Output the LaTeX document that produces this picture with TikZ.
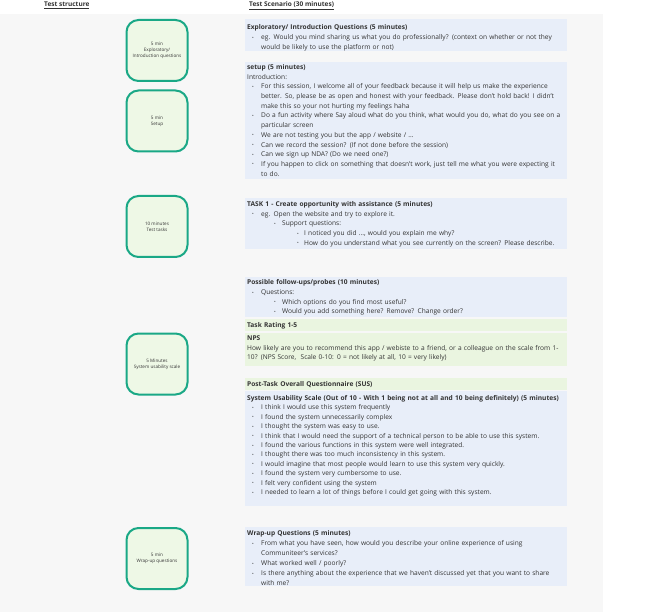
\documentclass[tikz,border=0pt]{standalone}
\usepackage{fontspec}
\setmainfont{Open Sans}
\definecolor{panel}{HTML}{F7F7F7}
\definecolor{bluebg}{HTML}{E8EEF9}
\definecolor{greenbg}{HTML}{EAF5E0}
\definecolor{boxline}{HTML}{1AA886}
\definecolor{boxfill}{HTML}{EEF8E6}
\definecolor{txt}{HTML}{333333}
\newcommand\dotb{\raisebox{0.5pt}{\fontsize{4.5}{4}\selectfont\textbullet}}
\newcommand\bA[1]{\hspace*{5pt}\makebox[9pt][l]{\dotb}#1}
\newcommand\bB[1]{\hspace*{27pt}\makebox[8pt][l]{\dotb}#1}
\newcommand\bC[1]{\hspace*{50pt}\makebox[7pt][l]{\dotb}#1}
\newcommand\cA[1]{\hspace*{14pt}#1}
\tikzset{
  x=1pt, y=-1pt,
  blueblock/.style={fill=bluebg, draw=none},
  greenblock/.style={fill=greenbg, draw=none},
  blocktext/.style={anchor=base west, inner sep=0pt, text width=360pt, align=left,
    font=\fontsize{6.6}{9.7}\selectfont, text=txt},
  stepbox/.style={draw=boxline, line width=2pt, fill=boxfill, rounded corners=12pt,
    minimum width=61pt, minimum height=61pt, align=center, inner sep=1pt,
    font=\fontsize{4.6}{6}\selectfont, text=txt},
  header/.style={anchor=base west, inner sep=0pt, font=\fontsize{6.5}{8}\selectfont\bfseries, text=txt}
}
\begin{document}
\begin{tikzpicture}
\useasboundingbox (0,0) rectangle (661,612);
\fill[white] (0,0) rectangle (661,612);
\fill[panel] (0,14) rectangle (603,612);
% headers
\node[header] (h1) at (44,6.5) {\underline{Test structure}};
\node[header] (h2) at (249,6.5) {\underline{Test Scenario (30 minutes)}};
% left boxes
\node[stepbox] (s1) at (157,50.5) {5 min\\Exploratory/\\Introduction questions};
\node[stepbox] (s2) at (157,121) {5 min\\Setup};
\node[stepbox] (s3) at (157,226.5) {10 minutes\\Test tasks};
\node[stepbox] (s4) at (157,364) {5 Minutes\\System usability scale};
\node[stepbox] (s5) at (157,558.5) {5 min\\Wrap-up questions};
% backgrounds
\fill[blueblock] (245,19.5) rectangle (567,51);
\fill[blueblock] (245,62) rectangle (567,179);
\fill[blueblock] (245,198) rectangle (567,249);
\fill[blueblock] (245,277) rectangle (567,317);
\fill[greenblock] (245,319) rectangle (567,331);
\fill[greenblock] (245,333) rectangle (567,366);
\fill[greenblock] (245,378) rectangle (567,390);
\fill[blueblock] (245,391) rectangle (567,506);
\fill[blueblock] (245,527) rectangle (567,586);
% texts
\node[blocktext] (t1) at (247,29.9) {\textbf{Exploratory/ Introduction Questions (5 minutes)}\\
\bA{eg. Would you mind sharing us what you do professionally? (context on whether or not they}\\
\cA{would be likely to use the platform or not)}};
\node[blocktext] (t2) at (247,69.5) {\textbf{setup (5 minutes)}\\
Introduction:\\
\bA{For this session, I welcome all of your feedback because it will help us make the experience}\\
\cA{better. So, please be as open and honest with your feedback. Please don't hold back! I didn't}\\
\cA{make this so your not hurting my feelings haha}\\
\bA{Do a fun activity where Say aloud what do you think, what would you do, what do you see on a}\\
\cA{particular screen}\\
\bA{We are not testing you but the app / website / ...}\\
\bA{Can we record the session? (If not done before the session)}\\
\bA{Can we sign up NDA? (Do we need one?)}\\
\bA{If you happen to click on something that doesn't work, just tell me what you were expecting it}\\
\cA{to do.}};
\node[blocktext] (t3) at (247,206.5) {\textbf{TASK 1 - Create opportunity with assistance (5 minutes)}\\
\bA{eg. Open the website and try to explore it.}\\
\bB{Support questions:}\\
\bC{I noticed you did ..., would you explain me why?}\\
\bC{How do you understand what you see currently on the screen? Please describe.}};
\node[blocktext] (t4) at (247,284.9) {\textbf{Possible follow-ups/probes (10 minutes)}\\
\bA{Questions:}\\
\bB{Which options do you find most useful?}\\
\bB{Would you add something here? Remove? Change order?}};
\node[blocktext] (t5) at (247,327.2) {\textbf{Task Rating 1-5}};
\node[blocktext] (t6) at (247,340.5) {\textbf{NPS}\\
How likely are you to recommend this app / webiste to a friend, or a colleague on the scale from 1-\\
10? (NPS Score,\ \ Scale 0-10: 0 = not likely at all, 10 = very likely)};
\node[blocktext] (t7) at (247,386.7) {\textbf{Post-Task Overall Questionnaire (SUS)}};
\node[blocktext, font=\fontsize{6.6}{9.4}\selectfont] (t8) at (247,400.5) {\textbf{System Usability Scale (Out of 10 - With 1 being not at all and 10 being definitely) (5 minutes)}\\
\bA{I think I would use this system frequently}\\
\bA{I found the system unnecessarily complex}\\
\bA{I thought the system was easy to use.}\\
\bA{I think that I would need the support of a technical person to be able to use this system.}\\
\bA{I found the various functions in this system were well integrated.}\\
\bA{I thought there was too much inconsistency in this system.}\\
\bA{I would imagine that most people would learn to use this system very quickly.}\\
\bA{I found the system very cumbersome to use.}\\
\bA{I felt very confident using the system}\\
\bA{I needed to learn a lot of things before I could get going with this system.}};
\node[blocktext, font=\fontsize{6.6}{10}\selectfont] (t9) at (247,535.5) {\textbf{Wrap-up Questions (5 minutes)}\\
\bA{From what you have seen, how would you describe your online experience of using}\\
\cA{Communiteer's services?}\\
\bA{What worked well / poorly?}\\
\bA{Is there anything about the experience that we haven't discussed yet that you want to share}\\
\cA{with me?}};
\end{tikzpicture}
\end{document}
